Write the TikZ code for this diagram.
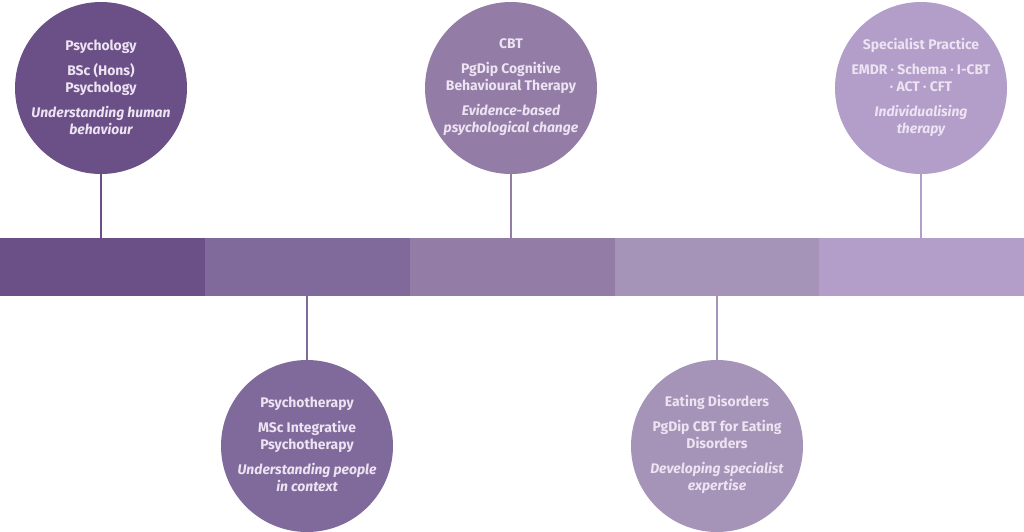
\documentclass[tikz,border=0pt]{standalone}
\usepackage{fontspec}
\setmainfont{Fira Sans}
\begin{document}
\begin{tikzpicture}[x=1pt,y=-1pt,
  seg/.style={draw=none,rectangle,minimum width=205pt,minimum height=58pt,inner sep=0pt,anchor=north west},
  bub/.style={circle,draw=none,minimum size=172pt,inner sep=0pt},
  txt/.style={text=txtc,align=center,font=\fontsize{13.9}{17}\selectfont\bfseries},
  conn/.style={line width=2pt}]
\definecolor{c1}{HTML}{6B5088}
\definecolor{c2}{HTML}{806A9C}
\definecolor{c3}{HTML}{937CA6}
\definecolor{c4}{HTML}{A693B8}
\definecolor{c5}{HTML}{B29EC8}
\definecolor{txtc}{HTML}{EDE3F2}
\useasboundingbox (0,0) rectangle (1024,531);
% bar
\node[seg,fill=c1] (s1) at (0,238) {};
\node[seg,fill=c2] (s2) at (204.8,238) {};
\node[seg,fill=c3] (s3) at (409.6,238) {};
\node[seg,fill=c4] (s4) at (614.4,238) {};
\node[seg,fill=c5,minimum width=204.8pt] (s5) at (819.2,238) {};
% circles
\node[bub,fill=c1] (b1) at (101,88) {};
\node[bub,fill=c2] (b2) at (307,446) {};
\node[bub,fill=c3] (b3) at (511,88) {};
\node[bub,fill=c4] (b4) at (717,446) {};
\node[bub,fill=c5] (b5) at (921,88) {};
% connectors
\draw[conn,c1] (b1.south) -- (b1.south |- s1.north);
\draw[conn,c2] (b2.north) -- (b2.north |- s2.south);
\draw[conn,c3] (b3.south) -- (b3.south |- s3.north);
\draw[conn,c4] (b4.north) -- (b4.north |- s4.south);
\draw[conn,c5] (b5.south) -- (b5.south |- s5.north);
% texts
\node[txt] (t1) at (101,87) {Psychology\\[8pt]BSc (Hons)\\Psychology\\[8pt]\itshape Understanding human\\\itshape behaviour};
\node[txt] (t2) at (307,444) {Psychotherapy\\[8pt]MSc Integrative\\Psychotherapy\\[8pt]\itshape Understanding people\\\itshape in context};
\node[txt] (t3) at (511,87) {CBT\\[8pt]PgDip Cognitive\\Behavioural Therapy\\[8pt]\itshape Evidence-based\\\itshape psychological change};
\node[txt] (t4) at (717,444) {Eating Disorders\\[8pt]PgDip CBT for Eating\\Disorders\\[8pt]\itshape Developing specialist\\\itshape expertise};
\node[txt] (t5) at (921,87) {Specialist Practice\\[8pt]EMDR · Schema · I-CBT\\· ACT · CFT\\[8pt]\itshape Individualising\\\itshape therapy};
\end{tikzpicture}
\end{document}
